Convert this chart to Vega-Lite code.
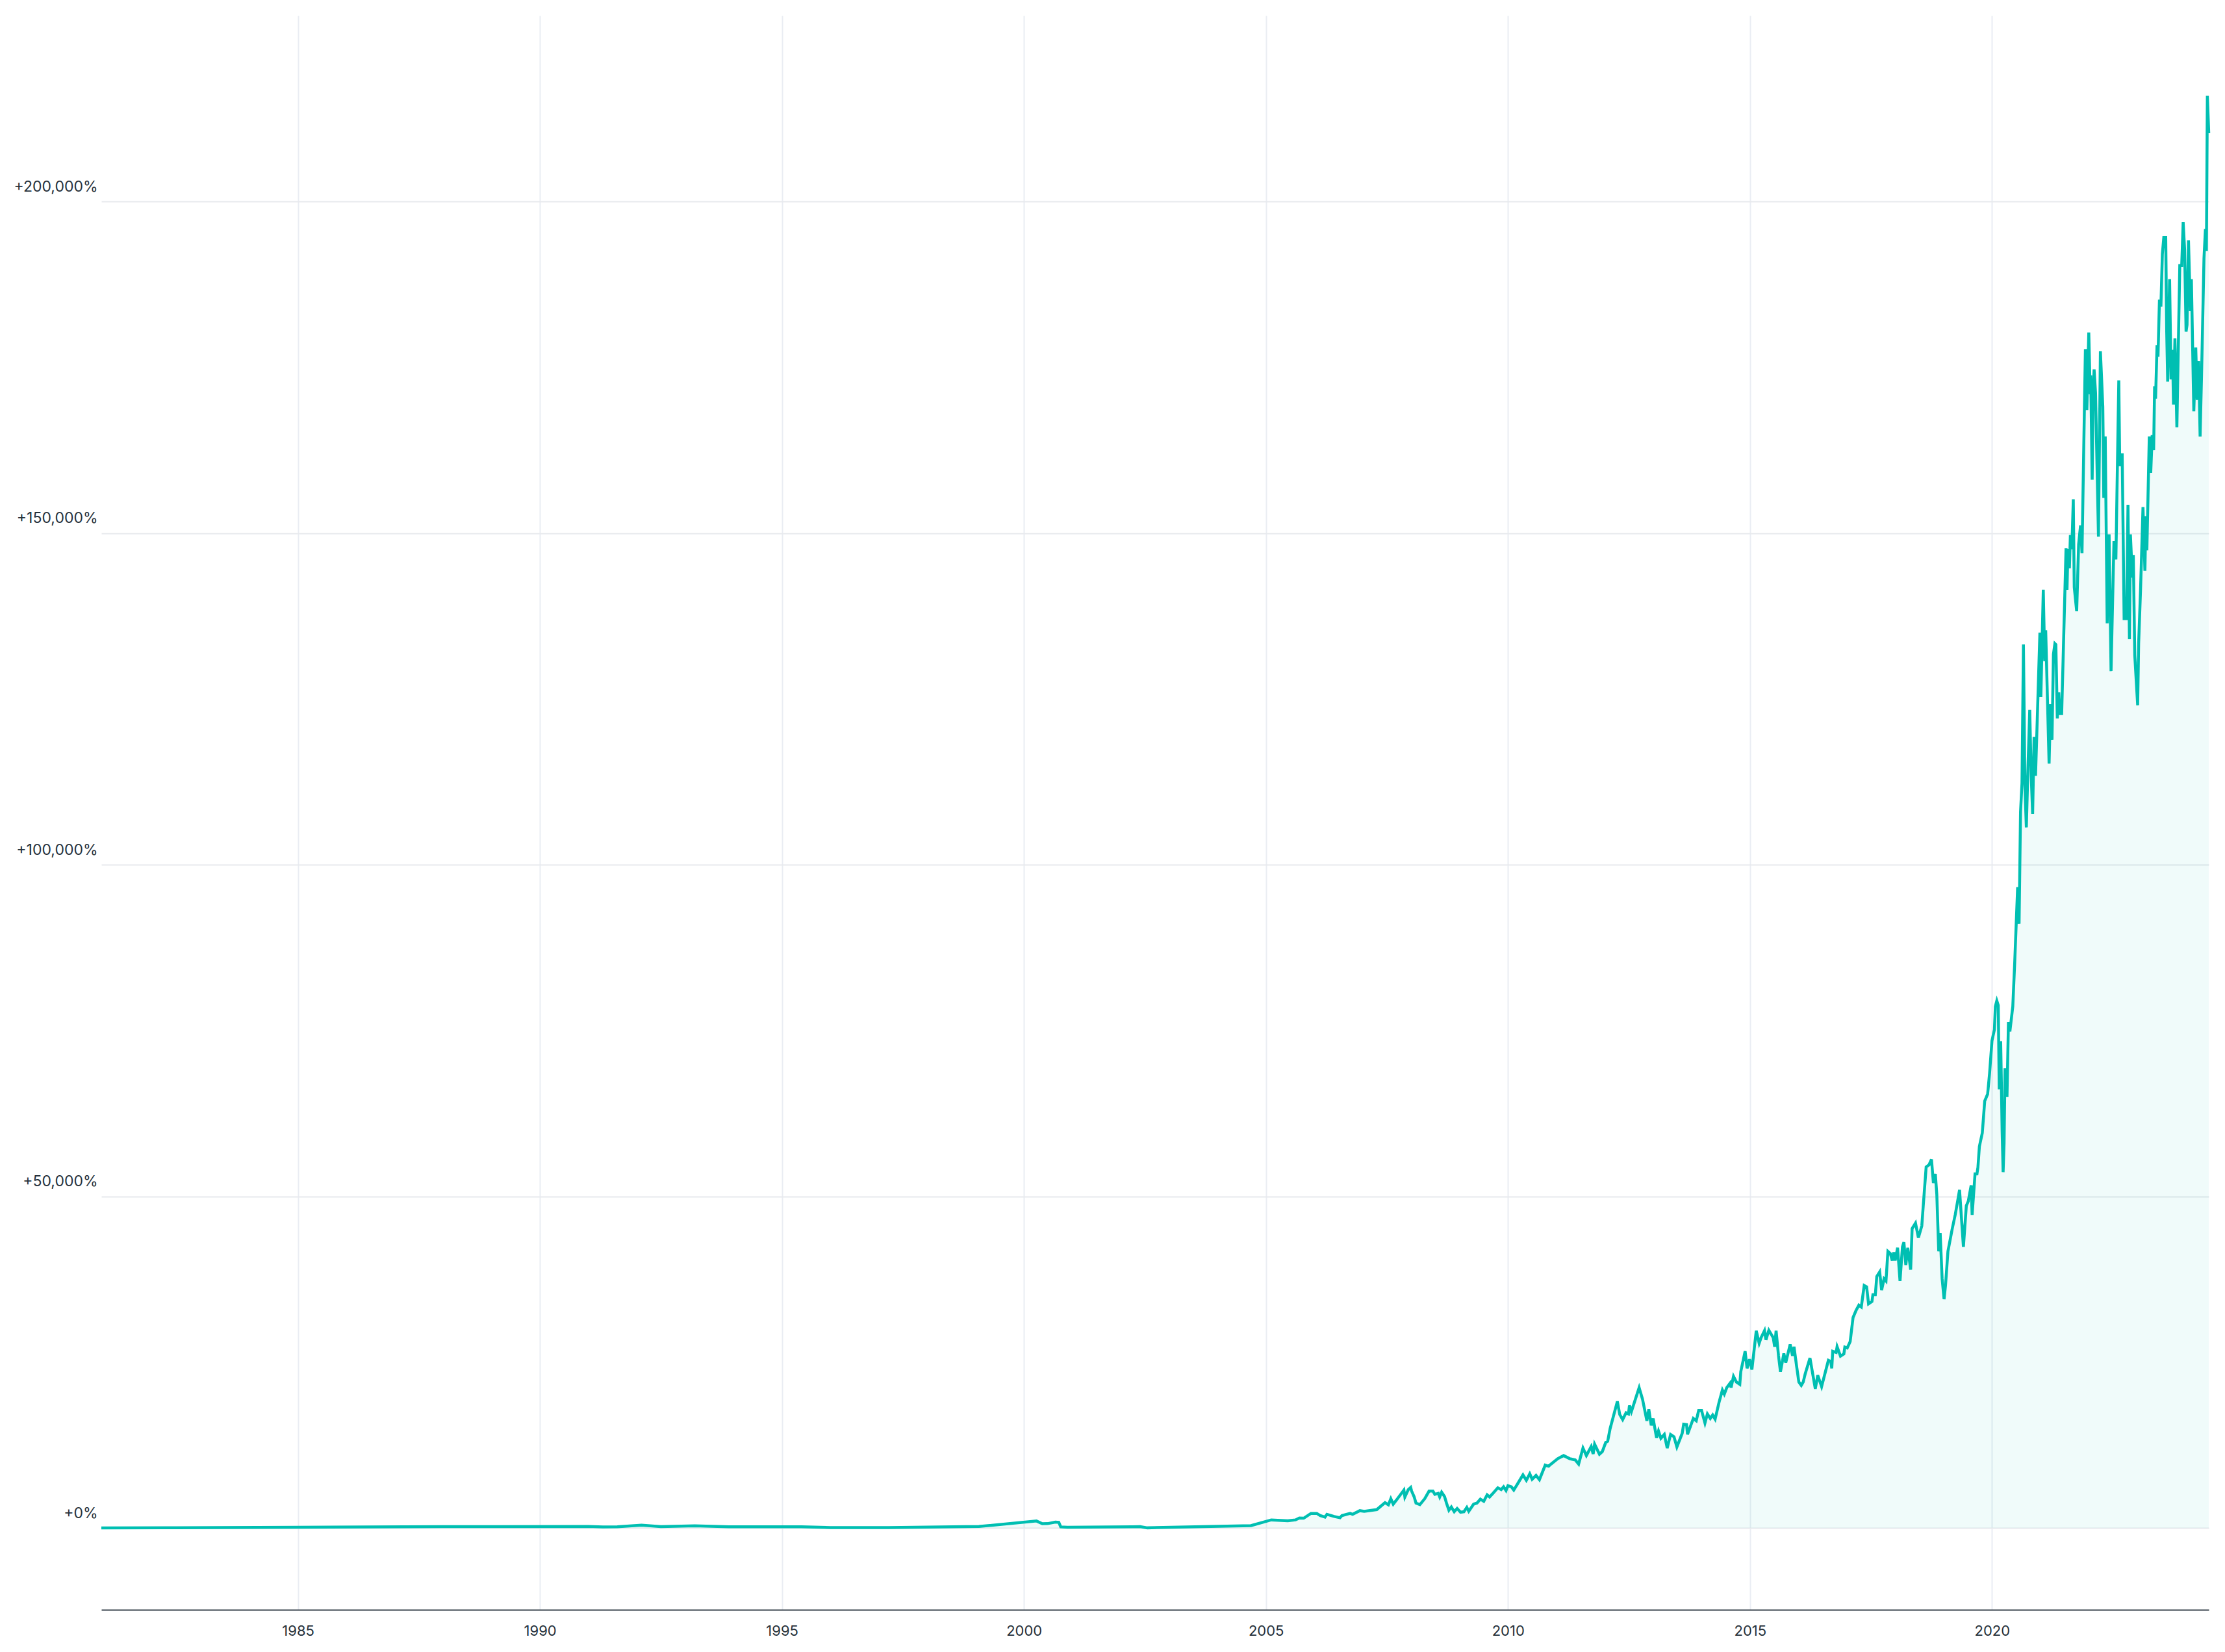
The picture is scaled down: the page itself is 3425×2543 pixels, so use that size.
{
  "$schema": "https://vega.github.io/schema/vega-lite/v6.json",
  "width": 3244,
  "height": 2454,
  "autosize": {"type": "none"},
  "padding": {"left": 156, "top": 24, "right": 25, "bottom": 65},
  "background": "white",
  "config": {
    "view": {"stroke": null},
    "font": "Inter",
    "axis": {"labelFont": "Inter", "labelFontSize": 22, "labelColor": "#26313b", "gridColor": "#e9ecf1", "gridWidth": 2, "tickSize": 0, "title": null}
  },
  "data": {
    "values": [
      {"t": 1980.9386, "v": 0}, {"t": 1982.5, "v": 30}, {"t": 1985.0, "v": 100}, {"t": 1988.0, "v": 200},
      {"t": 1991.0, "v": 240}, {"t": 1991.3, "v": 150}, {"t": 1991.6, "v": 170}, {"t": 1992.1, "v": 430},
      {"t": 1992.5, "v": 200}, {"t": 1993.2, "v": 330}, {"t": 1993.9, "v": 190}, {"t": 1995.4, "v": 190},
      {"t": 1996.0, "v": 60}, {"t": 1997.2, "v": 60}, {"t": 1999.07, "v": 220}, {"t": 2000.26, "v": 1050},
      {"t": 2000.38, "v": 650}, {"t": 2000.49, "v": 660}, {"t": 2000.65, "v": 880}, {"t": 2000.72, "v": 850},
      {"t": 2000.76, "v": 160}, {"t": 2000.9, "v": 100}, {"t": 2002.24, "v": 170}, {"t": 2002.4, "v": 200},
      {"t": 2002.55, "v": 20}, {"t": 2004.69, "v": 360},
      {"t": 2005.11, "v": 1214}, {"t": 2005.45, "v": 1084}, {"t": 2005.61, "v": 1214}, {"t": 2005.69, "v": 1508},
      {"t": 2005.78, "v": 1476}, {"t": 2005.93, "v": 2194}, {"t": 2006.05, "v": 2194}, {"t": 2006.12, "v": 1868},
      {"t": 2006.22, "v": 1639}, {"t": 2006.26, "v": 2063}, {"t": 2006.41, "v": 1737}, {"t": 2006.53, "v": 1541},
      {"t": 2006.57, "v": 1868}, {"t": 2006.74, "v": 2194}, {"t": 2006.79, "v": 2063}, {"t": 2006.94, "v": 2612},
      {"t": 2007.03, "v": 2514}, {"t": 2007.29, "v": 2775}, {"t": 2007.46, "v": 3820}, {"t": 2007.53, "v": 3494},
      {"t": 2007.58, "v": 4409}, {"t": 2007.63, "v": 3592}, {"t": 2007.70, "v": 4246}, {"t": 2007.85, "v": 5719},
      {"t": 2007.87, "v": 4671}, {"t": 2007.94, "v": 5784}, {"t": 2007.99, "v": 6111}, {"t": 2008.01, "v": 5555},
      {"t": 2008.06, "v": 4736}, {"t": 2008.10, "v": 3755}, {"t": 2008.18, "v": 3527}, {"t": 2008.28, "v": 4409},
      {"t": 2008.37, "v": 5555}, {"t": 2008.45, "v": 5555}, {"t": 2008.49, "v": 5065}, {"t": 2008.56, "v": 5229},
      {"t": 2008.59, "v": 4671}, {"t": 2008.63, "v": 5392}, {"t": 2008.69, "v": 4736}, {"t": 2008.73, "v": 3755},
      {"t": 2008.78, "v": 2677}, {"t": 2008.83, "v": 3167}, {"t": 2008.89, "v": 2449}, {"t": 2008.95, "v": 2939},
      {"t": 2009.02, "v": 2383}, {"t": 2009.09, "v": 2449}, {"t": 2009.15, "v": 3102}, {"t": 2009.19, "v": 2514},
      {"t": 2009.29, "v": 3592}, {"t": 2009.36, "v": 3755}, {"t": 2009.43, "v": 4344}, {"t": 2009.50, "v": 4017},
      {"t": 2009.57, "v": 4997}, {"t": 2009.62, "v": 4671}, {"t": 2009.69, "v": 5229}, {"t": 2009.79, "v": 6046},
      {"t": 2009.86, "v": 5784}, {"t": 2009.91, "v": 6209}, {"t": 2009.96, "v": 5653}, {"t": 2010.0, "v": 6372},
      {"t": 2010.07, "v": 6209}, {"t": 2010.12, "v": 5719}, {"t": 2010.17, "v": 6307}, {"t": 2010.31, "v": 8003},
      {"t": 2010.38, "v": 7187}, {"t": 2010.45, "v": 8166}, {"t": 2010.50, "v": 7350}, {"t": 2010.58, "v": 7937},
      {"t": 2010.65, "v": 7285}, {"t": 2010.77, "v": 9473}, {"t": 2010.84, "v": 9310}, {"t": 2010.89, "v": 9636},
      {"t": 2011.03, "v": 10453},
      {"t": 2011.15, "v": 10913}, {"t": 2011.28, "v": 10433}, {"t": 2011.39, "v": 10263}, {"t": 2011.46, "v": 9639},
      {"t": 2011.55, "v": 12039}, {"t": 2011.62, "v": 10913}, {"t": 2011.72, "v": 12286}, {"t": 2011.76, "v": 11157},
      {"t": 2011.79, "v": 12626}, {"t": 2011.89, "v": 11118}, {"t": 2011.95, "v": 11530}, {"t": 2012.02, "v": 12901},
      {"t": 2012.06, "v": 13069}, {"t": 2012.11, "v": 14958}, {"t": 2012.26, "v": 19083}, {"t": 2012.31, "v": 17094},
      {"t": 2012.37, "v": 16340}, {"t": 2012.44, "v": 17368}, {"t": 2012.49, "v": 17196}, {"t": 2012.51, "v": 18465},
      {"t": 2012.55, "v": 17540}, {"t": 2012.71, "v": 21150}, {"t": 2012.78, "v": 19426}, {"t": 2012.87, "v": 16163},
      {"t": 2012.91, "v": 17888}, {"t": 2012.96, "v": 15478}, {"t": 2013.0, "v": 16506}, {"t": 2013.07, "v": 13587},
      {"t": 2013.11, "v": 14616}, {"t": 2013.16, "v": 13518}, {"t": 2013.23, "v": 14106}, {"t": 2013.29, "v": 12039},
      {"t": 2013.36, "v": 14106}, {"t": 2013.43, "v": 13763}, {"t": 2013.49, "v": 12215}, {"t": 2013.60, "v": 14273},
      {"t": 2013.63, "v": 15644}, {"t": 2013.69, "v": 15576}, {"t": 2013.71, "v": 14106}, {"t": 2013.83, "v": 16506},
      {"t": 2013.89, "v": 16163}, {"t": 2013.94, "v": 17711}, {"t": 2014.0, "v": 17711}, {"t": 2014.07, "v": 15820},
      {"t": 2014.12, "v": 17196}, {"t": 2014.18, "v": 16506}, {"t": 2014.23, "v": 17025}, {"t": 2014.28, "v": 16403},
      {"t": 2014.36, "v": 18916}, {"t": 2014.43, "v": 20806}, {"t": 2014.47, "v": 20187}, {"t": 2014.52, "v": 21150},
      {"t": 2014.59, "v": 21835}, {"t": 2014.61, "v": 21150}, {"t": 2014.66, "v": 22864}, {"t": 2014.72, "v": 22003},
      {"t": 2014.79, "v": 21659}, {"t": 2014.81, "v": 23550}, {"t": 2014.90, "v": 26645}, {"t": 2014.94, "v": 24069},
      {"t": 2014.99, "v": 25440}, {"t": 2015.04, "v": 23893}, {"t": 2015.13, "v": 29741}, {"t": 2015.19, "v": 27850},
      {"t": 2015.23, "v": 28703}, {"t": 2015.30, "v": 29741}, {"t": 2015.33, "v": 28360}, {"t": 2015.39, "v": 29810},
      {"t": 2015.48, "v": 28703}, {"t": 2015.51, "v": 27331}, {"t": 2015.54, "v": 29741}, {"t": 2015.59, "v": 25959},
      {"t": 2015.63, "v": 23550}, {"t": 2015.70, "v": 26302}, {"t": 2015.74, "v": 24931}, {"t": 2015.83, "v": 27674},
      {"t": 2015.88, "v": 25959}, {"t": 2015.91, "v": 27331}, {"t": 2015.96, "v": 24579}, {"t": 2016.01, "v": 22003},
      {"t": 2016.06, "v": 21492}, {"t": 2016.10, "v": 22003}, {"t": 2016.14, "v": 23207}, {"t": 2016.24, "v": 25617},
      {"t": 2016.35, "v": 20973}, {"t": 2016.40, "v": 23035}, {"t": 2016.48, "v": 21320}, {"t": 2016.62, "v": 25274},
      {"t": 2016.67, "v": 25101}, {"t": 2016.69, "v": 24069}, {"t": 2016.71, "v": 26645}, {"t": 2016.78, "v": 26473},
      {"t": 2016.80, "v": 27331},
      {"t": 2016.87, "v": 25901}, {"t": 2016.94, "v": 26243}, {"t": 2016.96, "v": 27272}, {"t": 2017.01, "v": 27135},
      {"t": 2017.07, "v": 28095}, {"t": 2017.13, "v": 31739}, {"t": 2017.19, "v": 32768}, {"t": 2017.25, "v": 33590},
      {"t": 2017.30, "v": 33316}, {"t": 2017.36, "v": 36549}, {"t": 2017.41, "v": 36343}, {"t": 2017.45, "v": 33797},
      {"t": 2017.52, "v": 34140}, {"t": 2017.54, "v": 35178}, {"t": 2017.59, "v": 35178}, {"t": 2017.62, "v": 37920},
      {"t": 2017.68, "v": 38607}, {"t": 2017.72, "v": 35863}, {"t": 2017.77, "v": 37577}, {"t": 2017.81, "v": 37234},
      {"t": 2017.85, "v": 41702}, {"t": 2017.90, "v": 41358}, {"t": 2017.94, "v": 40330}, {"t": 2017.97, "v": 41565},
      {"t": 2018.0, "v": 40330}, {"t": 2018.05, "v": 42250}, {"t": 2018.10, "v": 37234}, {"t": 2018.15, "v": 42387},
      {"t": 2018.18, "v": 43083}, {"t": 2018.22, "v": 39645}, {"t": 2018.26, "v": 42250}, {"t": 2018.32, "v": 38956},
      {"t": 2018.35, "v": 45140}, {"t": 2018.42, "v": 45963}, {"t": 2018.48, "v": 43769}, {"t": 2018.55, "v": 45551},
      {"t": 2018.58, "v": 48578}, {"t": 2018.64, "v": 54417}, {"t": 2018.70, "v": 54758}, {"t": 2018.75, "v": 55583},
      {"t": 2018.79, "v": 52007}, {"t": 2018.83, "v": 53380}, {"t": 2018.86, "v": 50293}, {"t": 2018.90, "v": 41702},
      {"t": 2018.93, "v": 44454}, {"t": 2018.97, "v": 37577}, {"t": 2019.01, "v": 34492}, {"t": 2019.04, "v": 36549},
      {"t": 2019.09, "v": 41702}, {"t": 2019.18, "v": 45140}, {"t": 2019.24, "v": 47197}, {"t": 2019.29, "v": 49255},
      {"t": 2019.33, "v": 50978}, {"t": 2019.41, "v": 42387}, {"t": 2019.47, "v": 48578}, {"t": 2019.51, "v": 49255},
      {"t": 2019.57, "v": 51664}, {"t": 2019.59, "v": 47197}, {"t": 2019.65, "v": 53380}, {"t": 2019.69, "v": 53380},
      {"t": 2019.71, "v": 54417}, {"t": 2019.74, "v": 57512}, {"t": 2019.80, "v": 59570}, {"t": 2019.85, "v": 64380},
      {"t": 2019.91, "v": 65410}, {"t": 2019.95, "v": 68504}, {"t": 2020.0, "v": 73450},
      {"t": 2020.05, "v": 75140}, {"t": 2020.07, "v": 78620}, {"t": 2020.10, "v": 79490}, {"t": 2020.13, "v": 78800},
      {"t": 2020.15, "v": 66130}, {"t": 2020.18, "v": 73390}, {"t": 2020.21, "v": 59750}, {"t": 2020.23, "v": 53650},
      {"t": 2020.25, "v": 58000}, {"t": 2020.27, "v": 69330}, {"t": 2020.31, "v": 64980}, {"t": 2020.34, "v": 76300},
      {"t": 2020.37, "v": 74860}, {"t": 2020.43, "v": 78620}, {"t": 2020.47, "v": 85300}, {"t": 2020.53, "v": 96620},
      {"t": 2020.56, "v": 91100}, {"t": 2020.59, "v": 107940}, {"t": 2020.62, "v": 112300}, {"t": 2020.65, "v": 133200},
      {"t": 2020.68, "v": 112000}, {"t": 2020.71, "v": 105620}, {"t": 2020.74, "v": 113750}, {"t": 2020.78, "v": 123330},
      {"t": 2020.81, "v": 113500}, {"t": 2020.84, "v": 107650}, {"t": 2020.87, "v": 119270}, {"t": 2020.90, "v": 113400},
      {"t": 2020.99, "v": 134990}, {"t": 2021.01, "v": 125280}, {"t": 2021.06, "v": 141450}, {"t": 2021.09, "v": 130680},
      {"t": 2021.11, "v": 135340}, {"t": 2021.18, "v": 115230}, {"t": 2021.21, "v": 124200}, {"t": 2021.24, "v": 118820},
      {"t": 2021.27, "v": 131750}, {"t": 2021.30, "v": 133330}, {"t": 2021.32, "v": 133190}, {"t": 2021.35, "v": 122050},
      {"t": 2021.38, "v": 126010}, {"t": 2021.40, "v": 122770}, {"t": 2021.44, "v": 122770}, {"t": 2021.53, "v": 147700},
      {"t": 2021.55, "v": 141450}, {"t": 2021.57, "v": 147590}, {"t": 2021.60, "v": 144690}, {"t": 2021.62, "v": 149710},
      {"t": 2021.65, "v": 147590}, {"t": 2021.68, "v": 155100}, {"t": 2021.70, "v": 141810}, {"t": 2021.75, "v": 138220},
      {"t": 2021.79, "v": 148280}, {"t": 2021.83, "v": 151150}, {"t": 2021.86, "v": 146980}, {"t": 2021.93, "v": 177730},
      {"t": 2021.96, "v": 168540}, {"t": 2022.0, "v": 180250}, {"t": 2022.03, "v": 170910}, {"t": 2022.04, "v": 173780},
      {"t": 2022.07, "v": 158040}, {"t": 2022.09, "v": 171100}, {"t": 2022.11, "v": 174670}, {"t": 2022.14, "v": 171100},
      {"t": 2022.20, "v": 149460}, {"t": 2022.24, "v": 177430}, {"t": 2022.29, "v": 169040}, {"t": 2022.31, "v": 155300},
      {"t": 2022.34, "v": 164560}, {"t": 2022.38, "v": 136400}, {"t": 2022.42, "v": 149800}, {"t": 2022.46, "v": 129180},
      {"t": 2022.52, "v": 148770}, {"t": 2022.56, "v": 146020}, {"t": 2022.62, "v": 173030}, {"t": 2022.64, "v": 160110},
      {"t": 2022.69, "v": 162020}, {"t": 2022.71, "v": 149800}, {"t": 2022.73, "v": 137090}, {"t": 2022.78, "v": 137090},
      {"t": 2022.81, "v": 154260}, {"t": 2022.84, "v": 133990}, {"t": 2022.86, "v": 149800}, {"t": 2022.90, "v": 143270},
      {"t": 2022.92, "v": 146700}, {"t": 2022.95, "v": 131590}, {"t": 2023.01, "v": 124030}, {"t": 2023.03, "v": 133300},
      {"t": 2023.07, "v": 141550}, {"t": 2023.12, "v": 153910}, {"t": 2023.16, "v": 144300}, {"t": 2023.18, "v": 152540},
      {"t": 2023.20, "v": 147390}, {"t": 2023.25, "v": 164560}, {"t": 2023.28, "v": 159080}, {"t": 2023.31, "v": 164760},
      {"t": 2023.34, "v": 162500}, {"t": 2023.36, "v": 172130}, {"t": 2023.38, "v": 170270}, {"t": 2023.41, "v": 178320},
      {"t": 2023.43, "v": 176600}, {"t": 2023.46, "v": 185180}, {"t": 2023.49, "v": 184150}, {"t": 2023.52, "v": 192060},
      {"t": 2023.55, "v": 194600}, {"t": 2023.59, "v": 194600}, {"t": 2023.61, "v": 180370}, {"t": 2023.63, "v": 172820},
      {"t": 2023.67, "v": 188280}, {"t": 2023.70, "v": 173160}, {"t": 2023.73, "v": 177630}, {"t": 2023.75, "v": 169380},
      {"t": 2023.78, "v": 179350}, {"t": 2023.82, "v": 165950}, {"t": 2023.88, "v": 190340}, {"t": 2023.92, "v": 190340},
      {"t": 2023.95, "v": 196870}, {"t": 2023.98, "v": 192750}, {"t": 2024.01, "v": 180370}, {"t": 2024.03, "v": 181400},
      {"t": 2024.06, "v": 194120}, {"t": 2024.10, "v": 183470}, {"t": 2024.12, "v": 188280}, {"t": 2024.17, "v": 168350},
      {"t": 2024.21, "v": 177980}, {"t": 2024.24, "v": 170070}, {"t": 2024.27, "v": 175910}, {"t": 2024.30, "v": 164560},
      {"t": 2024.33, "v": 173850}, {"t": 2024.38, "v": 191370}, {"t": 2024.41, "v": 195840}, {"t": 2024.43, "v": 192540},
      {"t": 2024.45, "v": 215910}, {"t": 2024.4788, "v": 210270}
    ]
  },
  "encoding": {
    "x": {
      "field": "t",
      "type": "quantitative",
      "scale": {"domain": [1980.9386, 2024.4788], "nice": false, "zero": false},
      "axis": {
        "values": [1985, 1990, 1995, 2000, 2005, 2010, 2015, 2020],
        "format": "d",
        "grid": true,
        "gridColor": "#eaedf3",
        "domain": true,
        "domainColor": "#3a444e",
        "domainWidth": 2,
        "ticks": false,
        "labelPadding": 22
      }
    },
    "y": {
      "field": "v",
      "type": "quantitative",
      "scale": {"domain": [-12333, 228016], "nice": false, "zero": false},
      "axis": {
        "values": [0, 50000, 100000, 150000, 200000],
        "labelExpr": "'+' + format(datum.value, ',') + '%'",
        "labelFontSize": 23,
        "grid": true,
        "gridColor": "#e7e9ed",
        "domain": false,
        "ticks": false,
        "labelPadding": 6,
        "labelBaseline": "alphabetic",
        "labelOffset": -16
      }
    }
  },
  "layer": [
    {
      "mark": {"type": "area", "color": "#00bfb2", "opacity": 0.06},
      "encoding": {"y2": {"datum": 0}}
    },
    {
      "mark": {"type": "line", "color": "#00bfb2", "strokeWidth": 4.5}
    }
  ]
}
